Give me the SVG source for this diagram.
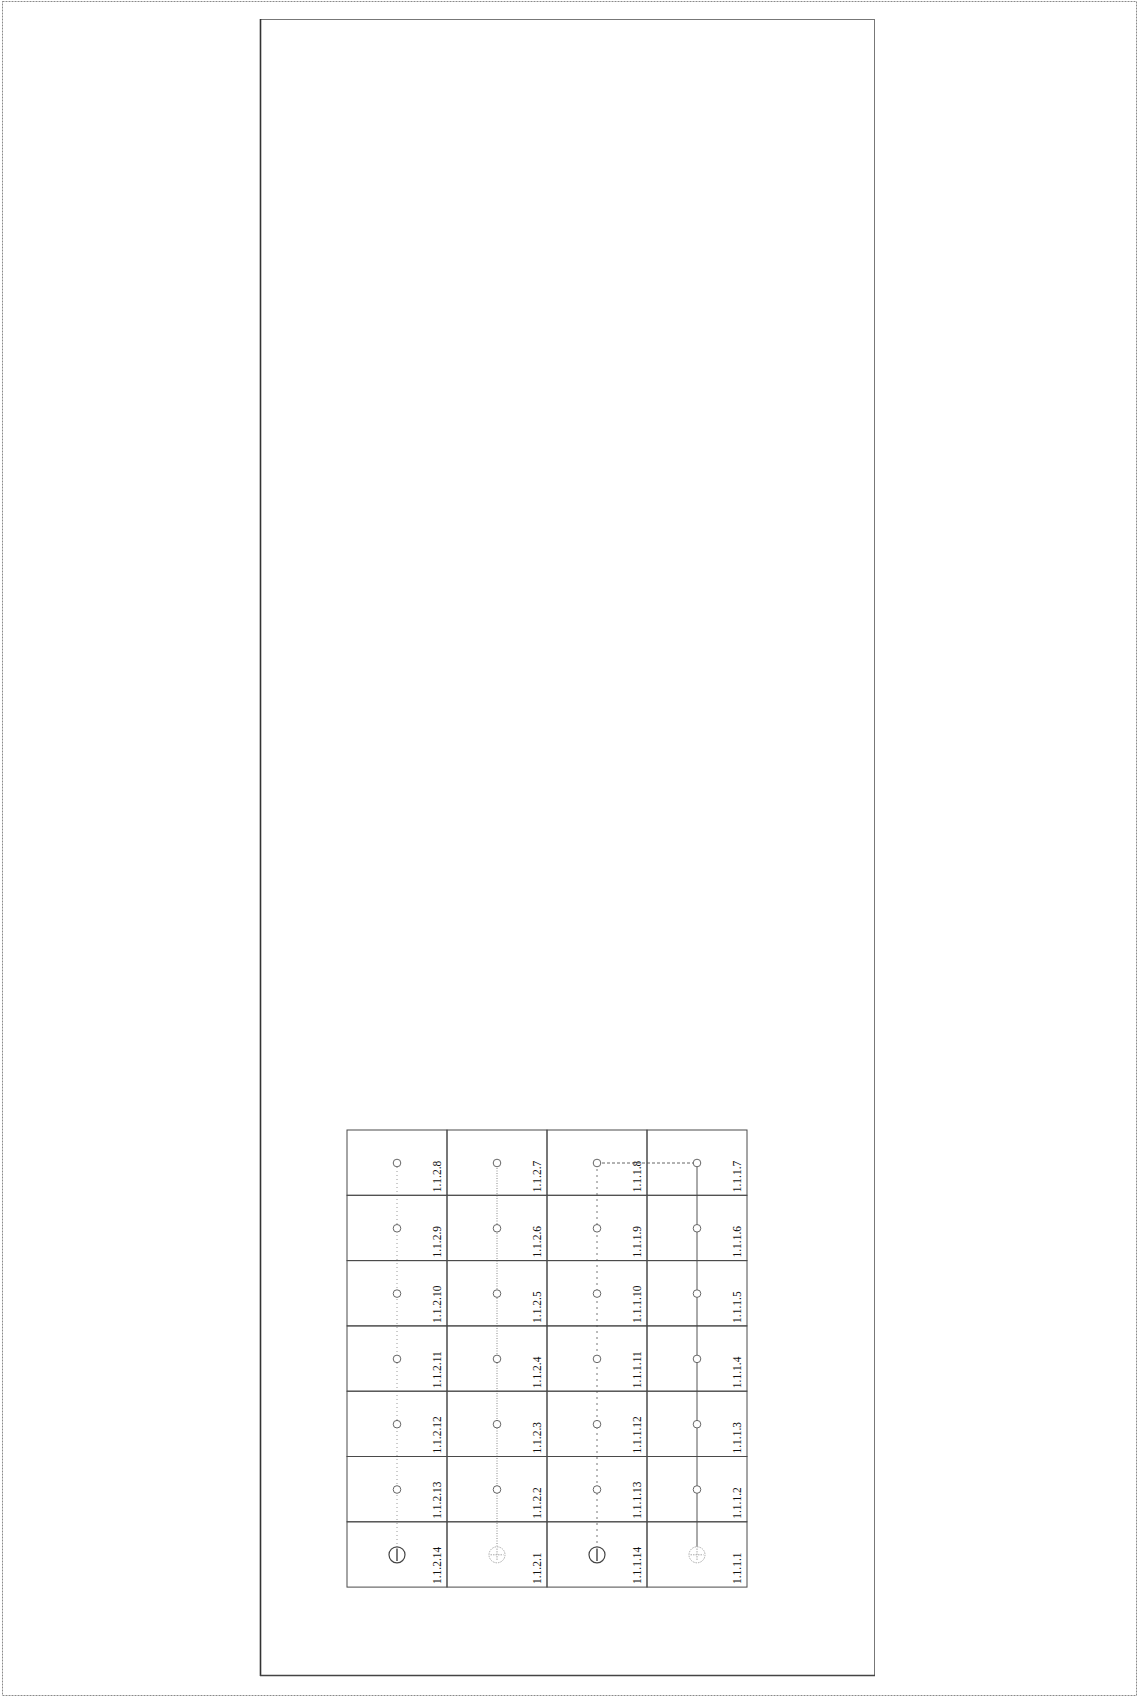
<svg xmlns="http://www.w3.org/2000/svg" width="1146" height="1698" viewBox="0 0 1146 1698">
<style>
.cell{fill:none;stroke:#4a4a4a;stroke-width:1}
.dot{fill:#fff;stroke:#666;stroke-width:1}
.lbl{font-family:"Liberation Serif",serif;font-size:11.5px;fill:#111}
.neg{fill:#fff;stroke:#444;stroke-width:1.2}
.pos{fill:#fff;stroke:#aaa;stroke-width:1;stroke-dasharray:1.5 1}
</style>
<rect width="1146" height="1698" fill="#fff"/>
<g id="frame">
<rect x="2.5" y="1.5" width="1134" height="1694" fill="none" stroke="#8a8a8a" stroke-width="1" stroke-dasharray="2 1"/>
<rect x="260.5" y="19.5" width="614" height="1656" fill="none" stroke="#777" stroke-width="1"/>
<line x1="260.5" y1="19" x2="260.5" y2="1676" stroke="#333" stroke-width="1.6"/>
<line x1="260" y1="1675.5" x2="875" y2="1675.5" stroke="#444" stroke-width="1.4"/>
</g>
<g id="connectors">
<line x1="397" y1="1163" x2="397" y2="1554.8" stroke="#9a9a9a" stroke-width="1" stroke-dasharray="1 3"/>
<line x1="497" y1="1163" x2="497" y2="1554.8" stroke="#888" stroke-width="1" stroke-dasharray="1 1.5"/>
<line x1="597" y1="1163" x2="597" y2="1554.8" stroke="#777" stroke-width="1" stroke-dasharray="2 4"/>
<line x1="697" y1="1163" x2="697" y2="1554.8" stroke="#555" stroke-width="1"/>
<line x1="597" y1="1163" x2="697" y2="1163" stroke="#666" stroke-width="1" stroke-dasharray="3 2"/>
</g>
<g id="n-1.1.2.8"><rect class="cell" x="347" y="1130" width="100" height="65.3"/><circle class="dot" cx="397" cy="1163" r="3.8"/><text class="lbl" transform="translate(441,1192.3) rotate(-90)">1.1.2.8</text></g>
<g id="n-1.1.2.9"><rect class="cell" x="347" y="1195.3" width="100" height="65.3"/><circle class="dot" cx="397" cy="1228.3" r="3.8"/><text class="lbl" transform="translate(441,1257.6) rotate(-90)">1.1.2.9</text></g>
<g id="n-1.1.2.10"><rect class="cell" x="347" y="1260.6" width="100" height="65.3"/><circle class="dot" cx="397" cy="1293.6" r="3.8"/><text class="lbl" transform="translate(441,1322.9) rotate(-90)">1.1.2.10</text></g>
<g id="n-1.1.2.11"><rect class="cell" x="347" y="1325.9" width="100" height="65.3"/><circle class="dot" cx="397" cy="1358.9" r="3.8"/><text class="lbl" transform="translate(441,1388.2) rotate(-90)">1.1.2.11</text></g>
<g id="n-1.1.2.12"><rect class="cell" x="347" y="1391.2" width="100" height="65.3"/><circle class="dot" cx="397" cy="1424.2" r="3.8"/><text class="lbl" transform="translate(441,1453.5) rotate(-90)">1.1.2.12</text></g>
<g id="n-1.1.2.13"><rect class="cell" x="347" y="1456.5" width="100" height="65.3"/><circle class="dot" cx="397" cy="1489.5" r="3.8"/><text class="lbl" transform="translate(441,1518.8) rotate(-90)">1.1.2.13</text></g>
<g id="n-1.1.2.14"><rect class="cell" x="347" y="1521.8" width="100" height="65.3"/><circle class="neg" cx="397" cy="1554.8" r="8"/><line x1="397" y1="1548.5" x2="397" y2="1561" stroke="#444" stroke-width="1.4"/><text class="lbl" transform="translate(441,1584.1) rotate(-90)">1.1.2.14</text></g>
<g id="n-1.1.2.7"><rect class="cell" x="447" y="1130" width="100" height="65.3"/><circle class="dot" cx="497" cy="1163" r="3.8"/><text class="lbl" transform="translate(541,1192.3) rotate(-90)">1.1.2.7</text></g>
<g id="n-1.1.2.6"><rect class="cell" x="447" y="1195.3" width="100" height="65.3"/><circle class="dot" cx="497" cy="1228.3" r="3.8"/><text class="lbl" transform="translate(541,1257.6) rotate(-90)">1.1.2.6</text></g>
<g id="n-1.1.2.5"><rect class="cell" x="447" y="1260.6" width="100" height="65.3"/><circle class="dot" cx="497" cy="1293.6" r="3.8"/><text class="lbl" transform="translate(541,1322.9) rotate(-90)">1.1.2.5</text></g>
<g id="n-1.1.2.4"><rect class="cell" x="447" y="1325.9" width="100" height="65.3"/><circle class="dot" cx="497" cy="1358.9" r="3.8"/><text class="lbl" transform="translate(541,1388.2) rotate(-90)">1.1.2.4</text></g>
<g id="n-1.1.2.3"><rect class="cell" x="447" y="1391.2" width="100" height="65.3"/><circle class="dot" cx="497" cy="1424.2" r="3.8"/><text class="lbl" transform="translate(541,1453.5) rotate(-90)">1.1.2.3</text></g>
<g id="n-1.1.2.2"><rect class="cell" x="447" y="1456.5" width="100" height="65.3"/><circle class="dot" cx="497" cy="1489.5" r="3.8"/><text class="lbl" transform="translate(541,1518.8) rotate(-90)">1.1.2.2</text></g>
<g id="n-1.1.2.1"><rect class="cell" x="447" y="1521.8" width="100" height="65.3"/><circle class="pos" cx="497" cy="1554.8" r="8"/><path d="M497 1548.5V1561M490.5 1554.8H503.5" stroke="#aaa" stroke-width="1" stroke-dasharray="1.5 1" fill="none"/><text class="lbl" transform="translate(541,1584.1) rotate(-90)">1.1.2.1</text></g>
<g id="n-1.1.1.8"><rect class="cell" x="547" y="1130" width="100" height="65.3"/><circle class="dot" cx="597" cy="1163" r="3.8"/><text class="lbl" transform="translate(641,1192.3) rotate(-90)">1.1.1.8</text></g>
<g id="n-1.1.1.9"><rect class="cell" x="547" y="1195.3" width="100" height="65.3"/><circle class="dot" cx="597" cy="1228.3" r="3.8"/><text class="lbl" transform="translate(641,1257.6) rotate(-90)">1.1.1.9</text></g>
<g id="n-1.1.1.10"><rect class="cell" x="547" y="1260.6" width="100" height="65.3"/><circle class="dot" cx="597" cy="1293.6" r="3.8"/><text class="lbl" transform="translate(641,1322.9) rotate(-90)">1.1.1.10</text></g>
<g id="n-1.1.1.11"><rect class="cell" x="547" y="1325.9" width="100" height="65.3"/><circle class="dot" cx="597" cy="1358.9" r="3.8"/><text class="lbl" transform="translate(641,1388.2) rotate(-90)">1.1.1.11</text></g>
<g id="n-1.1.1.12"><rect class="cell" x="547" y="1391.2" width="100" height="65.3"/><circle class="dot" cx="597" cy="1424.2" r="3.8"/><text class="lbl" transform="translate(641,1453.5) rotate(-90)">1.1.1.12</text></g>
<g id="n-1.1.1.13"><rect class="cell" x="547" y="1456.5" width="100" height="65.3"/><circle class="dot" cx="597" cy="1489.5" r="3.8"/><text class="lbl" transform="translate(641,1518.8) rotate(-90)">1.1.1.13</text></g>
<g id="n-1.1.1.14"><rect class="cell" x="547" y="1521.8" width="100" height="65.3"/><circle class="neg" cx="597" cy="1554.8" r="8"/><line x1="597" y1="1548.5" x2="597" y2="1561" stroke="#444" stroke-width="1.4"/><text class="lbl" transform="translate(641,1584.1) rotate(-90)">1.1.1.14</text></g>
<g id="n-1.1.1.7"><rect class="cell" x="647" y="1130" width="100" height="65.3"/><circle class="dot" cx="697" cy="1163" r="3.8"/><text class="lbl" transform="translate(741,1192.3) rotate(-90)">1.1.1.7</text></g>
<g id="n-1.1.1.6"><rect class="cell" x="647" y="1195.3" width="100" height="65.3"/><circle class="dot" cx="697" cy="1228.3" r="3.8"/><text class="lbl" transform="translate(741,1257.6) rotate(-90)">1.1.1.6</text></g>
<g id="n-1.1.1.5"><rect class="cell" x="647" y="1260.6" width="100" height="65.3"/><circle class="dot" cx="697" cy="1293.6" r="3.8"/><text class="lbl" transform="translate(741,1322.9) rotate(-90)">1.1.1.5</text></g>
<g id="n-1.1.1.4"><rect class="cell" x="647" y="1325.9" width="100" height="65.3"/><circle class="dot" cx="697" cy="1358.9" r="3.8"/><text class="lbl" transform="translate(741,1388.2) rotate(-90)">1.1.1.4</text></g>
<g id="n-1.1.1.3"><rect class="cell" x="647" y="1391.2" width="100" height="65.3"/><circle class="dot" cx="697" cy="1424.2" r="3.8"/><text class="lbl" transform="translate(741,1453.5) rotate(-90)">1.1.1.3</text></g>
<g id="n-1.1.1.2"><rect class="cell" x="647" y="1456.5" width="100" height="65.3"/><circle class="dot" cx="697" cy="1489.5" r="3.8"/><text class="lbl" transform="translate(741,1518.8) rotate(-90)">1.1.1.2</text></g>
<g id="n-1.1.1.1"><rect class="cell" x="647" y="1521.8" width="100" height="65.3"/><circle class="pos" cx="697" cy="1554.8" r="8"/><path d="M697 1548.5V1561M690.5 1554.8H703.5" stroke="#aaa" stroke-width="1" stroke-dasharray="1.5 1" fill="none"/><text class="lbl" transform="translate(741,1584.1) rotate(-90)">1.1.1.1</text></g>
</svg>
